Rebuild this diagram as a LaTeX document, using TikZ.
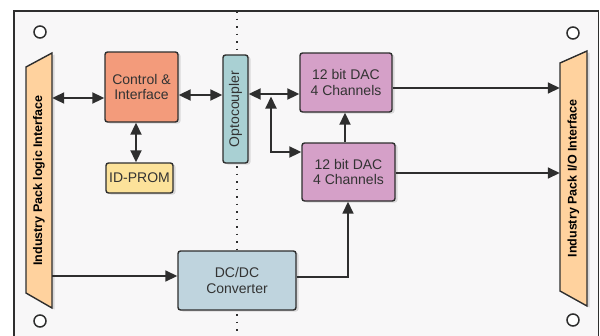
\documentclass[tikz,border=0pt]{standalone}
\usepackage{fontspec}
\setmainfont{Liberation Sans}
\usetikzlibrary{arrows.meta,shadows}
\definecolor{bg}{HTML}{F8F7F8}
\definecolor{linec}{HTML}{2E2E2E}
\definecolor{txt}{HTML}{333333}
\definecolor{ctrlc}{HTML}{F39B7B}
\definecolor{optoc}{HTML}{A9D0D3}
\definecolor{promc}{HTML}{FCE29A}
\definecolor{dacc}{HTML}{D5A0C8}
\definecolor{dcc}{HTML}{BFD4DE}
\definecolor{trapc}{HTML}{FFD29E}
\tikzset{
  shad/.style={drop shadow={shadow xshift=2.5pt,shadow yshift=-1.5pt,opacity=0.12,fill=black}},
  blk/.style={draw=linec, line width=1.4pt, rounded corners=2.5pt, align=center, inner sep=0pt,
    font=\fontsize{14}{15.5}\selectfont, text=txt, shad},
  trap/.style={draw=linec, line width=1.4pt, fill=trapc, line join=miter, shad},
  traptext/.style={inner sep=0pt, font=\bfseries\fontsize{12.5}{14}\selectfont, text=black},
  con/.style={draw=linec, line width=2pt},
  thin/.style={draw=linec, line width=1.6pt},
  tip/.tip={Triangle[length=12pt,width=11pt]},
  dots/.style={draw=linec, line width=1.8pt, dash pattern=on 1.8pt off 5.7pt},
  hole/.style={draw=linec, line width=1.5pt, fill=white}
}
\begin{document}
\begin{tikzpicture}[x=1pt,y=-1pt]
\useasboundingbox (0,0) rectangle (600,335);
% board
\fill[white] (0,0) rectangle (600,335);
\draw[draw=linec, line width=1.5pt, fill=bg] (14,11) rectangle (598.5,345);
% holes
\draw[hole] (40,32) circle (6);
\draw[hole] (573,33) circle (6);
\draw[hole] (40,321) circle (6);
\draw[hole] (573,320) circle (6);
% isolation line
\draw[dots] (237,11) -- (237,55);
\draw[dots] (237,166) -- (237,251);
\draw[dots] (237,314) -- (237,335);
% trapezoid connectors
\draw[trap] (26,67) -- (52,53) -- (52,308) -- (26,293) -- cycle;
\draw[trap] (560,63) -- (587,51) -- (587,306) -- (560,291) -- cycle;
\node[traptext, minimum width=26, minimum height=255] (lt) at (39,180.5) {\rotatebox{90}{Industry Pack logic Interface}};
\node[traptext, minimum width=27, minimum height=255] (rt) at (573.5,178.5) {\rotatebox{90}{Industry Pack I/O Interface}};
% blocks
\node[blk, fill=ctrlc, minimum width=73, minimum height=70] (ctrl) at (141.5,87) {Control \&\\Interface};
\node[blk, fill=optoc, minimum width=25, minimum height=108] (opto) at (235.5,109) {\rotatebox{90}{Optocoupler}};
\node[blk, fill=promc, minimum width=67, minimum height=30] (prom) at (139.5,178) {ID-PROM};
\node[blk, fill=dacc, minimum width=92, minimum height=59] (dac1) at (346,82.5) {12 bit DAC\\4 Channels};
\node[blk, fill=dacc, minimum width=93, minimum height=58] (dac2) at (348.5,172) {12 bit DAC\\4 Channels};
\node[blk, fill=dcc, minimum width=118, minimum height=59] (dcdc) at (237,280.5) {DC/DC\\Converter};
% connectors
\draw[con, tip-tip] (lt.east |- 0,98) -- (ctrl.west |- 0,98);
\draw[con, tip-tip] (ctrl.east |- 0,95) -- (opto.west |- 0,95);
\draw[con, tip-tip] (ctrl.south -| 136,0) -- (prom.north -| 136,0);
\draw[con, tip-tip] (opto.east |- 0,94) -- (dac1.west |- 0,94);
\coordinate (br) at (271,96.5);
\draw[con, tip-tip] (br) |- (dac2.west |- 0,152);
\draw[con, -tip] (dac2.north -| 345,0) -- (dac1.south -| 345,0);
\draw[thin, -tip] (dac1.east |- 0,88) -- (rt.west |- 0,88);
\draw[thin, -tip] (dac2.east |- 0,173) -- (rt.west |- 0,173);
\draw[thin, -tip] (lt.east |- 0,276) -- (dcdc.west |- 0,276);
\draw[thin, -tip] (dcdc.east |- 0,277) -| (dac2.south -| 348,0);
\end{tikzpicture}
\end{document}
